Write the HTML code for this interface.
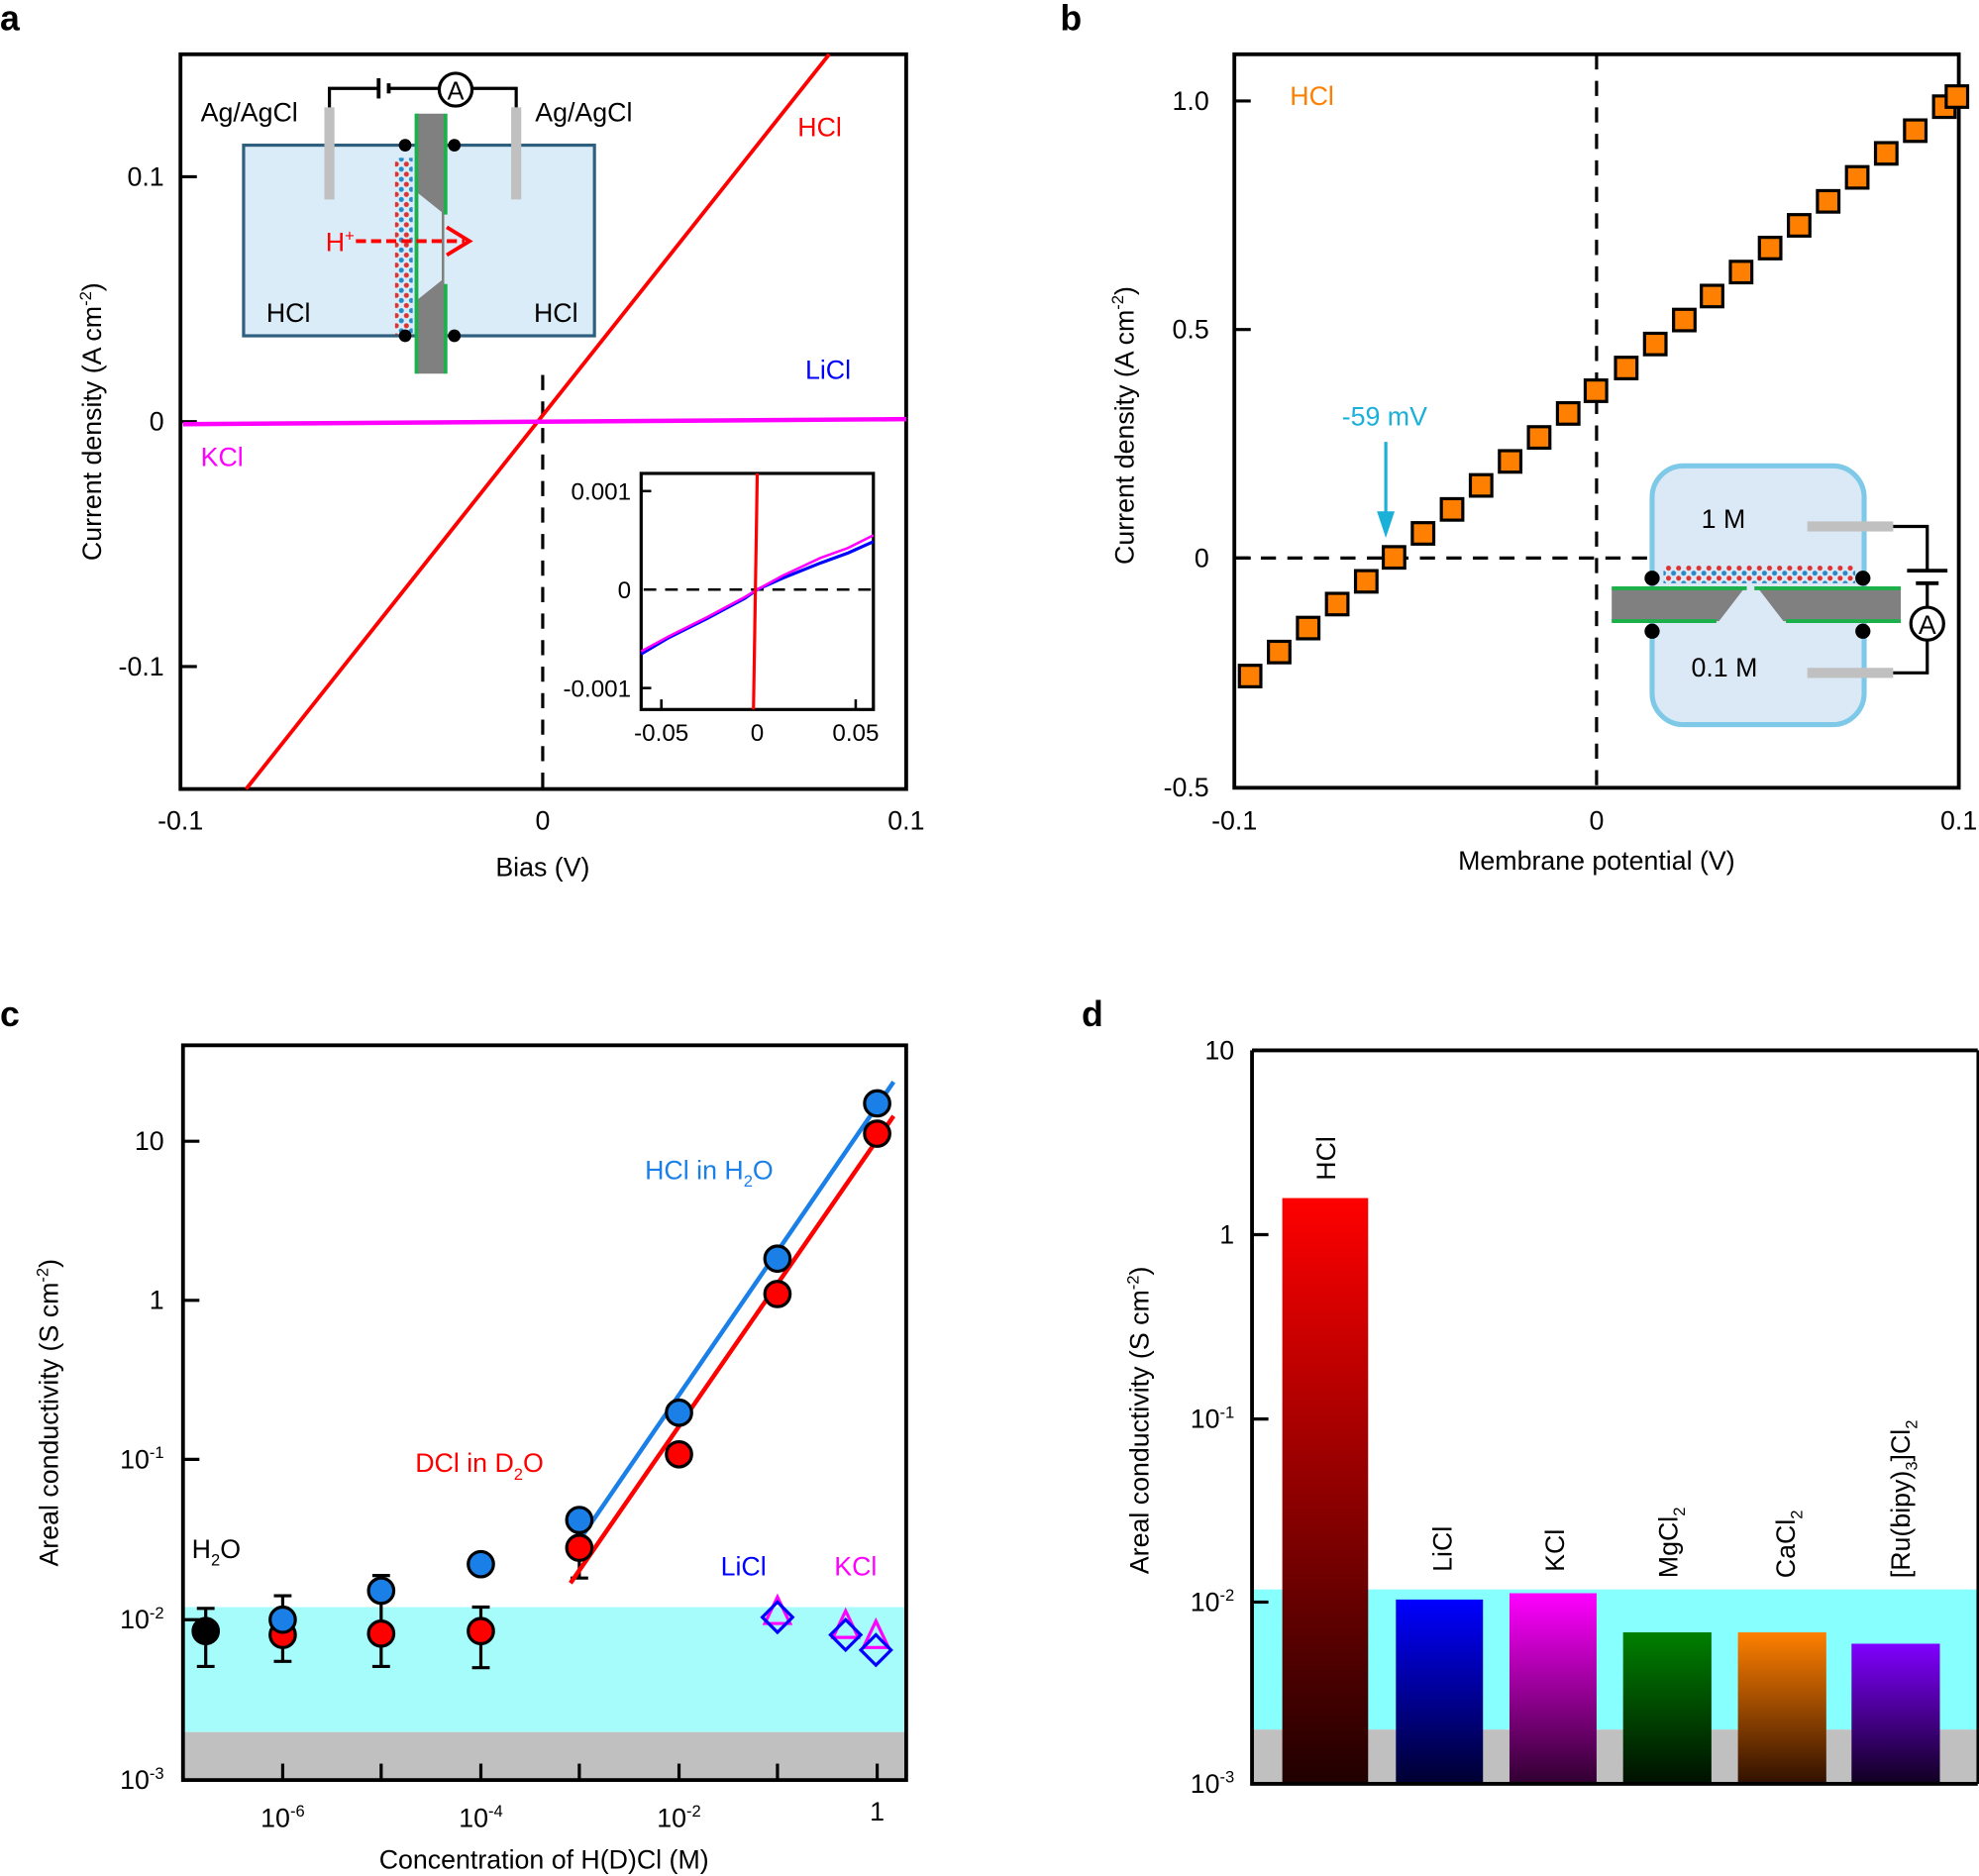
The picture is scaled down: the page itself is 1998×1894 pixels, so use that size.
<!DOCTYPE html>
<html><head><meta charset="utf-8"><style>html,body{margin:0;padding:0;background:#fff}svg{display:block}text{font-family:"Liberation Sans",sans-serif}</style></head><body>
<svg width="1998" height="1894" viewBox="0 0 1568 1486" preserveAspectRatio="none" xmlns="http://www.w3.org/2000/svg">
<defs>
<linearGradient id="gR" x1="0" y1="0" x2="0" y2="1"><stop offset="0" stop-color="#ff0000"/><stop offset="1" stop-color="#200000"/></linearGradient>
<linearGradient id="gB" x1="0" y1="0" x2="0" y2="1"><stop offset="0" stop-color="#0000ff"/><stop offset="1" stop-color="#000030"/></linearGradient>
<linearGradient id="gM" x1="0" y1="0" x2="0" y2="1"><stop offset="0" stop-color="#ff00ff"/><stop offset="1" stop-color="#300030"/></linearGradient>
<linearGradient id="gG" x1="0" y1="0" x2="0" y2="1"><stop offset="0" stop-color="#008000"/><stop offset="1" stop-color="#001000"/></linearGradient>
<linearGradient id="gO" x1="0" y1="0" x2="0" y2="1"><stop offset="0" stop-color="#ff8000"/><stop offset="1" stop-color="#301000"/></linearGradient>
<linearGradient id="gP" x1="0" y1="0" x2="0" y2="1"><stop offset="0" stop-color="#8000ff"/><stop offset="1" stop-color="#100020"/></linearGradient>
<pattern id="lat" x="0" y="0" width="8" height="8" patternUnits="userSpaceOnUse"><circle cx="2" cy="2" r="2" fill="#d33"/><circle cx="6" cy="6" r="2" fill="#2a8ac8"/></pattern>
</defs>
<g font-size="21" fill="#000">
<!-- Panel a -->
<text x="0" y="24" font-size="28" font-weight="bold">a</text>
<rect x="143" y="43" width="575" height="582" fill="none" stroke="#000" stroke-width="3"/>
<g stroke="#000" stroke-width="2.5"><line x1="143" y1="140" x2="156" y2="140"/><line x1="143" y1="334" x2="156" y2="334"/><line x1="143" y1="528" x2="156" y2="528"/></g>
<text x="130" y="147" text-anchor="end">0.1</text><text x="130" y="341" text-anchor="end">0</text><text x="130" y="535" text-anchor="end">-0.1</text>
<text x="143" y="657" text-anchor="middle">-0.1</text><text x="430" y="657" text-anchor="middle">0</text><text x="718" y="657" text-anchor="middle">0.1</text>
<text x="430" y="694" text-anchor="middle">Bias (V)</text>
<text transform="translate(80,334) rotate(-90)" text-anchor="middle">Current density (A cm<tspan font-size="13" dy="-8">-2</tspan><tspan dy="8">)</tspan></text>
<line x1="430" y1="297" x2="430" y2="625" stroke="#000" stroke-width="2.5" stroke-dasharray="12,9"/>
<line x1="195" y1="625" x2="657" y2="43" stroke="#f00" stroke-width="3"/>
<line x1="145" y1="336" x2="718" y2="332" stroke="#f0f" stroke-width="3.5"/>
<text x="632" y="108" fill="#f00">HCl</text><text x="638" y="300" fill="#00f">LiCl</text><text x="159" y="369" fill="#f0f">KCl</text>
<!-- schematic a -->
<rect x="193" y="115" width="278" height="151" fill="#daecf7" stroke="#2f5f7f" stroke-width="2.5"/>
<path d="M330 90 H352 V296 H330 V238 L350 222 V168 L330 152 Z" fill="#808080"/>
<line x1="330" y1="90" x2="330" y2="296" stroke="#1bb04a" stroke-width="3"/>
<line x1="353" y1="90" x2="353" y2="170" stroke="#1bb04a" stroke-width="3"/><line x1="353" y1="225" x2="353" y2="296" stroke="#1bb04a" stroke-width="3"/>
<rect x="313" y="125" width="14" height="140" fill="url(#lat)"/>
<rect x="257" y="85" width="8" height="73" fill="#c0c0c0"/><rect x="405" y="85" width="8" height="73" fill="#c0c0c0"/>
<path d="M261 85 V70 H300 M308 70 H348 M374 70 H409 V85" fill="none" stroke="#000" stroke-width="2.5"/>
<line x1="300" y1="62" x2="300" y2="78" stroke="#000" stroke-width="3"/><line x1="308" y1="66" x2="308" y2="74" stroke="#000" stroke-width="3"/>
<circle cx="361" cy="71" r="13" fill="#fff" stroke="#000" stroke-width="2.5"/><text x="361" y="79" text-anchor="middle" font-size="20">A</text>
<circle cx="321" cy="115" r="5"/><circle cx="360" cy="115" r="5"/><circle cx="321" cy="266" r="5"/><circle cx="360" cy="266" r="5"/>
<text x="159" y="96">Ag/AgCl</text><text x="424" y="96">Ag/AgCl</text>
<text x="211" y="255">HCl</text><text x="423" y="255">HCl</text>
<text x="258" y="199" fill="#f00">H<tspan font-size="13" dy="-8">+</tspan></text>
<line x1="282" y1="191" x2="368" y2="191" stroke="#f00" stroke-width="3" stroke-dasharray="8,4"/>
<path d="M354 180 L372 191 L354 202" fill="none" stroke="#f00" stroke-width="3"/>
<!-- inset a -->
<rect x="508" y="375" width="184" height="187" fill="#fff" stroke="#000" stroke-width="2.5"/>
<g stroke="#000" stroke-width="2"><line x1="508" y1="389" x2="516" y2="389"/><line x1="508" y1="545" x2="516" y2="545"/><line x1="524" y1="562" x2="524" y2="554"/><line x1="678" y1="562" x2="678" y2="554"/></g>
<line x1="510" y1="467" x2="690" y2="467" stroke="#000" stroke-width="2" stroke-dasharray="10,7"/>
<polyline points="508,518 530,505 560,490 590,474 600,467 620,458 650,446 672,438 692,429" fill="none" stroke="#00f" stroke-width="2.5"/>
<polyline points="508,516 530,504 560,489 590,473 600,467 620,456 650,442 672,434 692,424" fill="none" stroke="#f0f" stroke-width="2"/>
<line x1="600" y1="375" x2="597" y2="562" stroke="#f00" stroke-width="2.5"/>
<text x="500" y="396" text-anchor="end" font-size="19">0.001</text><text x="500" y="474" text-anchor="end" font-size="19">0</text><text x="500" y="552" text-anchor="end" font-size="19">-0.001</text>
<text x="524" y="587" text-anchor="middle" font-size="19">-0.05</text><text x="600" y="587" text-anchor="middle" font-size="19">0</text><text x="678" y="587" text-anchor="middle" font-size="19">0.05</text>

<!-- Panel b -->
<text x="840" y="24" font-size="28" font-weight="bold">b</text>
<rect x="978" y="43" width="574" height="581" fill="none" stroke="#000" stroke-width="3"/>
<g stroke="#000" stroke-width="2.5"><line x1="978" y1="80" x2="991" y2="80"/><line x1="978" y1="261" x2="991" y2="261"/><line x1="978" y1="442" x2="991" y2="442"/></g>
<text x="958" y="87" text-anchor="end">1.0</text><text x="958" y="268" text-anchor="end">0.5</text><text x="958" y="449" text-anchor="end">0</text><text x="958" y="631" text-anchor="end">-0.5</text>
<text x="978" y="657" text-anchor="middle">-0.1</text><text x="1265" y="657" text-anchor="middle">0</text><text x="1552" y="657" text-anchor="middle">0.1</text>
<text x="1265" y="689" text-anchor="middle">Membrane potential (V)</text>
<text transform="translate(898,337) rotate(-90)" text-anchor="middle">Current density (A cm<tspan font-size="13" dy="-8">-2</tspan><tspan dy="8">)</tspan></text>
<line x1="1265" y1="43" x2="1265" y2="624" stroke="#000" stroke-width="2.5" stroke-dasharray="12,9"/>
<line x1="978" y1="442" x2="1305" y2="442" stroke="#000" stroke-width="2.5" stroke-dasharray="12,9"/>
<text x="1022" y="83" fill="#ff8000">HCl</text>
<text x="1097" y="337" fill="#1ab0d8" text-anchor="middle">-59 mV</text>
<line x1="1098" y1="350" x2="1098" y2="412" stroke="#1ab0d8" stroke-width="2.5"/><path d="M1091 405 L1098 426 L1105 405 Z" fill="#1ab0d8"/>
<g fill="#ff8000" stroke="#000" stroke-width="2.5">
<rect x="982" y="527" width="17" height="17"/><rect x="1005" y="508" width="17" height="17"/><rect x="1028" y="489" width="17" height="17"/><rect x="1051" y="470" width="17" height="17"/><rect x="1074" y="452" width="17" height="17"/><rect x="1096" y="433" width="17" height="17"/><rect x="1119" y="414" width="17" height="17"/><rect x="1142" y="395" width="17" height="17"/><rect x="1165" y="376" width="17" height="17"/><rect x="1188" y="357" width="17" height="17"/><rect x="1211" y="338" width="17" height="17"/><rect x="1234" y="319" width="17" height="17"/><rect x="1256" y="301" width="17" height="17"/><rect x="1280" y="283" width="17" height="17"/><rect x="1303" y="264" width="17" height="17"/><rect x="1326" y="245" width="17" height="17"/><rect x="1348" y="226" width="17" height="17"/><rect x="1371" y="207" width="17" height="17"/><rect x="1394" y="188" width="17" height="17"/><rect x="1417" y="170" width="17" height="17"/><rect x="1440" y="151" width="17" height="17"/><rect x="1463" y="132" width="17" height="17"/><rect x="1486" y="113" width="17" height="17"/><rect x="1509" y="95" width="17" height="17"/><rect x="1532" y="76" width="17" height="17"/><rect x="1542" y="68" width="17" height="17"/>
</g>
<!-- inset b -->
<rect x="1309" y="369" width="168" height="205" rx="25" fill="#dbe9f6" stroke="#7ec8e8" stroke-width="4"/>
<path d="M1277 466 H1382 L1362 492 H1277 Z" fill="#808080"/><path d="M1393 466 H1506 V492 H1413 Z" fill="#808080"/>
<line x1="1277" y1="466" x2="1384" y2="466" stroke="#1bb04a" stroke-width="3"/><line x1="1390" y1="466" x2="1506" y2="466" stroke="#1bb04a" stroke-width="3"/>
<line x1="1277" y1="492" x2="1360" y2="492" stroke="#1bb04a" stroke-width="3"/><line x1="1415" y1="492" x2="1506" y2="492" stroke="#1bb04a" stroke-width="3"/>
<rect x="1318" y="448" width="152" height="14" fill="url(#lat)"/>
<circle cx="1309" cy="458" r="6"/><circle cx="1476" cy="458" r="6"/><circle cx="1309" cy="500" r="6"/><circle cx="1476" cy="500" r="6"/>
<rect x="1432" y="413" width="68" height="8" fill="#c0c0c0"/><rect x="1432" y="529" width="68" height="8" fill="#c0c0c0"/>
<path d="M1500 417 H1527 V452 M1527 463 V481 M1527 507 V533 H1500" fill="none" stroke="#000" stroke-width="2.5"/>
<line x1="1511" y1="452" x2="1543" y2="452" stroke="#000" stroke-width="3"/><line x1="1518" y1="462" x2="1536" y2="462" stroke="#000" stroke-width="3"/>
<circle cx="1527" cy="494" r="13" fill="#fff" stroke="#000" stroke-width="2.5"/><text x="1527" y="502" text-anchor="middle">A</text>
<text x="1348" y="418">1 M</text><text x="1340" y="536">0.1 M</text>

<!-- Panel c -->
<text x="0" y="813" font-size="28" font-weight="bold">c</text>
<rect x="145" y="1273" width="573" height="99" fill="#a6fbfb"/><rect x="145" y="1372" width="573" height="38" fill="#c0c0c0"/>
<rect x="145" y="828" width="573" height="582" fill="none" stroke="#000" stroke-width="3"/>
<g stroke="#000" stroke-width="2.5"><line x1="145" y1="904" x2="158" y2="904"/><line x1="145" y1="1030" x2="158" y2="1030"/><line x1="145" y1="1156" x2="158" y2="1156"/><line x1="145" y1="1283" x2="158" y2="1283"/>
<line x1="224" y1="1410" x2="224" y2="1397"/><line x1="302" y1="1410" x2="302" y2="1397"/><line x1="381" y1="1410" x2="381" y2="1397"/><line x1="459" y1="1410" x2="459" y2="1397"/><line x1="538" y1="1410" x2="538" y2="1397"/><line x1="616" y1="1410" x2="616" y2="1397"/><line x1="695" y1="1410" x2="695" y2="1397"/></g>
<text x="130" y="911" text-anchor="end">10</text><text x="130" y="1037" text-anchor="end">1</text>
<text x="130" y="1163" text-anchor="end">10<tspan font-size="13" dy="-8">-1</tspan></text>
<text x="130" y="1290" text-anchor="end">10<tspan font-size="13" dy="-8">-2</tspan></text>
<text x="130" y="1417" text-anchor="end">10<tspan font-size="13" dy="-8">-3</tspan></text>
<text x="224" y="1447" text-anchor="middle">10<tspan font-size="13" dy="-8">-6</tspan></text>
<text x="381" y="1447" text-anchor="middle">10<tspan font-size="13" dy="-8">-4</tspan></text>
<text x="538" y="1447" text-anchor="middle">10<tspan font-size="13" dy="-8">-2</tspan></text>
<text x="695" y="1442" text-anchor="middle">1</text>
<text x="431" y="1480" text-anchor="middle">Concentration of H(D)Cl (M)</text>
<text transform="translate(46,1119) rotate(-90)" text-anchor="middle">Areal conductivity (S cm<tspan font-size="13" dy="-8">-2</tspan><tspan dy="8">)</tspan></text>
<g stroke="#000" stroke-width="2.5"><path d="M163 1274 V1320 M156 1274 H170 M156 1320 H170"/><path d="M224 1264 V1316 M217 1264 H231 M217 1316 H231"/><path d="M302 1248 V1320 M295 1248 H309 M295 1320 H309"/><path d="M381 1273 V1321 M374 1273 H388 M374 1321 H388"/><path d="M459 1210 V1250 M452 1210 H466 M452 1250 H466"/></g>
<line x1="455" y1="1226" x2="708" y2="857" stroke="#1a80e8" stroke-width="3.5"/>
<line x1="452" y1="1254" x2="708" y2="884" stroke="#f00" stroke-width="3.5"/>
<g stroke="#000" stroke-width="2.5">
<circle cx="163" cy="1292" r="10"/>
<g fill="#f00"><circle cx="224" cy="1295" r="10"/><circle cx="302" cy="1294" r="10"/><circle cx="381" cy="1292" r="10"/><circle cx="459" cy="1226" r="10"/><circle cx="538" cy="1152" r="10"/><circle cx="616" cy="1025" r="10"/><circle cx="695" cy="898" r="10"/></g>
<g fill="#1a80e8"><circle cx="224" cy="1283" r="10"/><circle cx="302" cy="1260" r="10"/><circle cx="381" cy="1239" r="10"/><circle cx="459" cy="1204" r="10"/><circle cx="538" cy="1119" r="10"/><circle cx="616" cy="997" r="10"/><circle cx="695" cy="874" r="10"/></g>
</g>
<g fill="none" stroke-width="2.5">
<path stroke="#f0f" d="M616 1265 L626 1286 H606 Z M670 1276 L680 1297 H660 Z M694 1284 L704 1305 H684 Z"/>
<path stroke="#00f" d="M616 1269 L628 1281 L616 1293 L604 1281 Z M670 1283 L682 1295 L670 1307 L658 1295 Z M694 1295 L706 1307 L694 1319 L682 1307 Z"/>
</g>
<text x="152" y="1234">H<tspan font-size="13" dy="6">2</tspan><tspan dy="-6">O</tspan></text>
<text x="511" y="934" fill="#1a80e8">HCl in H<tspan font-size="13" dy="6">2</tspan><tspan dy="-6">O</tspan></text>
<text x="329" y="1166" fill="#f00">DCl in D<tspan font-size="13" dy="6">2</tspan><tspan dy="-6">O</tspan></text>
<text x="571" y="1248" fill="#00f">LiCl</text><text x="661" y="1248" fill="#f0f">KCl</text>

<!-- Panel d -->
<text x="857" y="813" font-size="28" font-weight="bold">d</text>
<rect x="992" y="1259" width="576" height="111" fill="#88ffff"/><rect x="992" y="1370" width="576" height="43" fill="#c0c0c0"/>
<rect x="1016" y="949" width="68" height="464" fill="url(#gR)"/>
<rect x="1106" y="1267" width="69" height="146" fill="url(#gB)"/>
<rect x="1196" y="1262" width="69" height="151" fill="url(#gM)"/>
<rect x="1286" y="1293" width="70" height="120" fill="url(#gG)"/>
<rect x="1377" y="1293" width="70" height="120" fill="url(#gO)"/>
<rect x="1467" y="1302" width="70" height="111" fill="url(#gP)"/>
<path d="M992 832 H1567 M992 832 V1413 H1567" fill="none" stroke="#000" stroke-width="3"/>
<line x1="1567" y1="832" x2="1567" y2="1413" stroke="#000" stroke-width="2"/>
<g stroke="#000" stroke-width="2.5"><line x1="992" y1="978" x2="1005" y2="978"/><line x1="992" y1="1124" x2="1005" y2="1124"/><line x1="992" y1="1269" x2="1005" y2="1269"/></g>
<text x="978" y="839" text-anchor="end">10</text><text x="978" y="985" text-anchor="end">1</text>
<text x="978" y="1131" text-anchor="end">10<tspan font-size="13" dy="-8">-1</tspan></text>
<text x="978" y="1276" text-anchor="end">10<tspan font-size="13" dy="-8">-2</tspan></text>
<text x="978" y="1420" text-anchor="end">10<tspan font-size="13" dy="-8">-3</tspan></text>
<text transform="translate(910,1125) rotate(-90)" text-anchor="middle">Areal conductivity (S cm<tspan font-size="13" dy="-8">-2</tspan><tspan dy="8">)</tspan></text>
<text transform="translate(1058,935) rotate(-90)">HCl</text>
<text transform="translate(1150,1245) rotate(-90)">LiCl</text>
<text transform="translate(1239,1245) rotate(-90)">KCl</text>
<text transform="translate(1329,1250) rotate(-90)">MgCl<tspan font-size="13" dy="6">2</tspan></text>
<text transform="translate(1422,1250) rotate(-90)">CaCl<tspan font-size="13" dy="6">2</tspan></text>
<text transform="translate(1513,1250) rotate(-90)">[Ru(bipy)<tspan font-size="13" dy="6">3</tspan><tspan dy="-6">]Cl</tspan><tspan font-size="13" dy="6">2</tspan></text>
</g>
</svg>
</body></html>
